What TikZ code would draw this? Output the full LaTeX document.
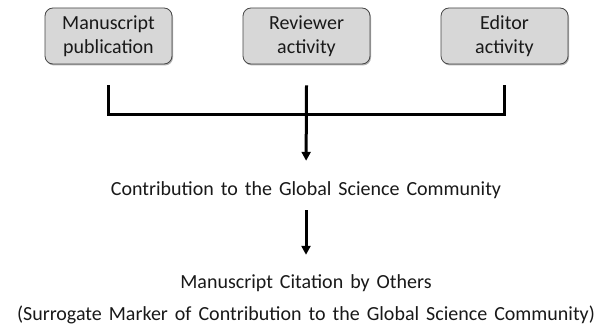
\documentclass[tikz,border=0pt]{standalone}
\usepackage{fontspec}
\setmainfont{Carlito}[WordSpace=1.55]
\usetikzlibrary{arrows.meta,shadows}
\definecolor{boxgray}{RGB}{215,215,215}
\definecolor{boxline}{RGB}{70,70,70}
\definecolor{ink}{RGB}{25,25,25}
\begin{document}
\begin{tikzpicture}[x=1pt,y=-1pt,
  box/.style={draw=boxline, line width=0.8pt, fill=boxgray, rounded corners=8pt,
    minimum width=127pt, minimum height=56pt, inner sep=0pt, align=center,
    text=ink, font=\fontsize{20}{23.5}\selectfont,
    drop shadow={shadow xshift=1pt, shadow yshift=-1.5pt, fill=black, opacity=0.3}},
  txt/.style={inner sep=0pt, text=ink, font=\fontsize{20}{24}\selectfont,
    text height=14pt, text depth=5pt, anchor=base},
  conn/.style={line width=3pt, draw=black, line join=miter},
  arr/.style={conn, -{Triangle[width=9pt,length=9pt]}}]
\useasboundingbox (0,0) rectangle (609,326);
\fill[white] (0,0) rectangle (609,326);

\node[box] (pub) at (108.5,36) {Manuscript\\publication};
\node[box] (rev) at (306.5,36) {Reviewer\\activity};
\node[box] (ed)  at (504.5,36) {Editor\\activity};

\node[txt] (contrib) at (306,195) {Contribution to the Global Science Community};
\node[txt] (cite) at (306,288) {Manuscript Citation by Others};
\node[txt] (sur) at (306,320) {(Surrogate Marker of Contribution to the Global Science Community)};

\draw[conn] ([yshift=-21pt]pub.south) -- ([yshift=-50pt]pub.south)
  -- ([yshift=-50pt]ed.south) -- ([yshift=-21pt]ed.south);
\draw[arr, shorten >=20pt] ([yshift=-21pt]rev.south) -- (contrib.north);
\draw[arr, shorten <=10pt, shorten >=19pt] (contrib.south) -- (cite.north);
\end{tikzpicture}
\end{document}
